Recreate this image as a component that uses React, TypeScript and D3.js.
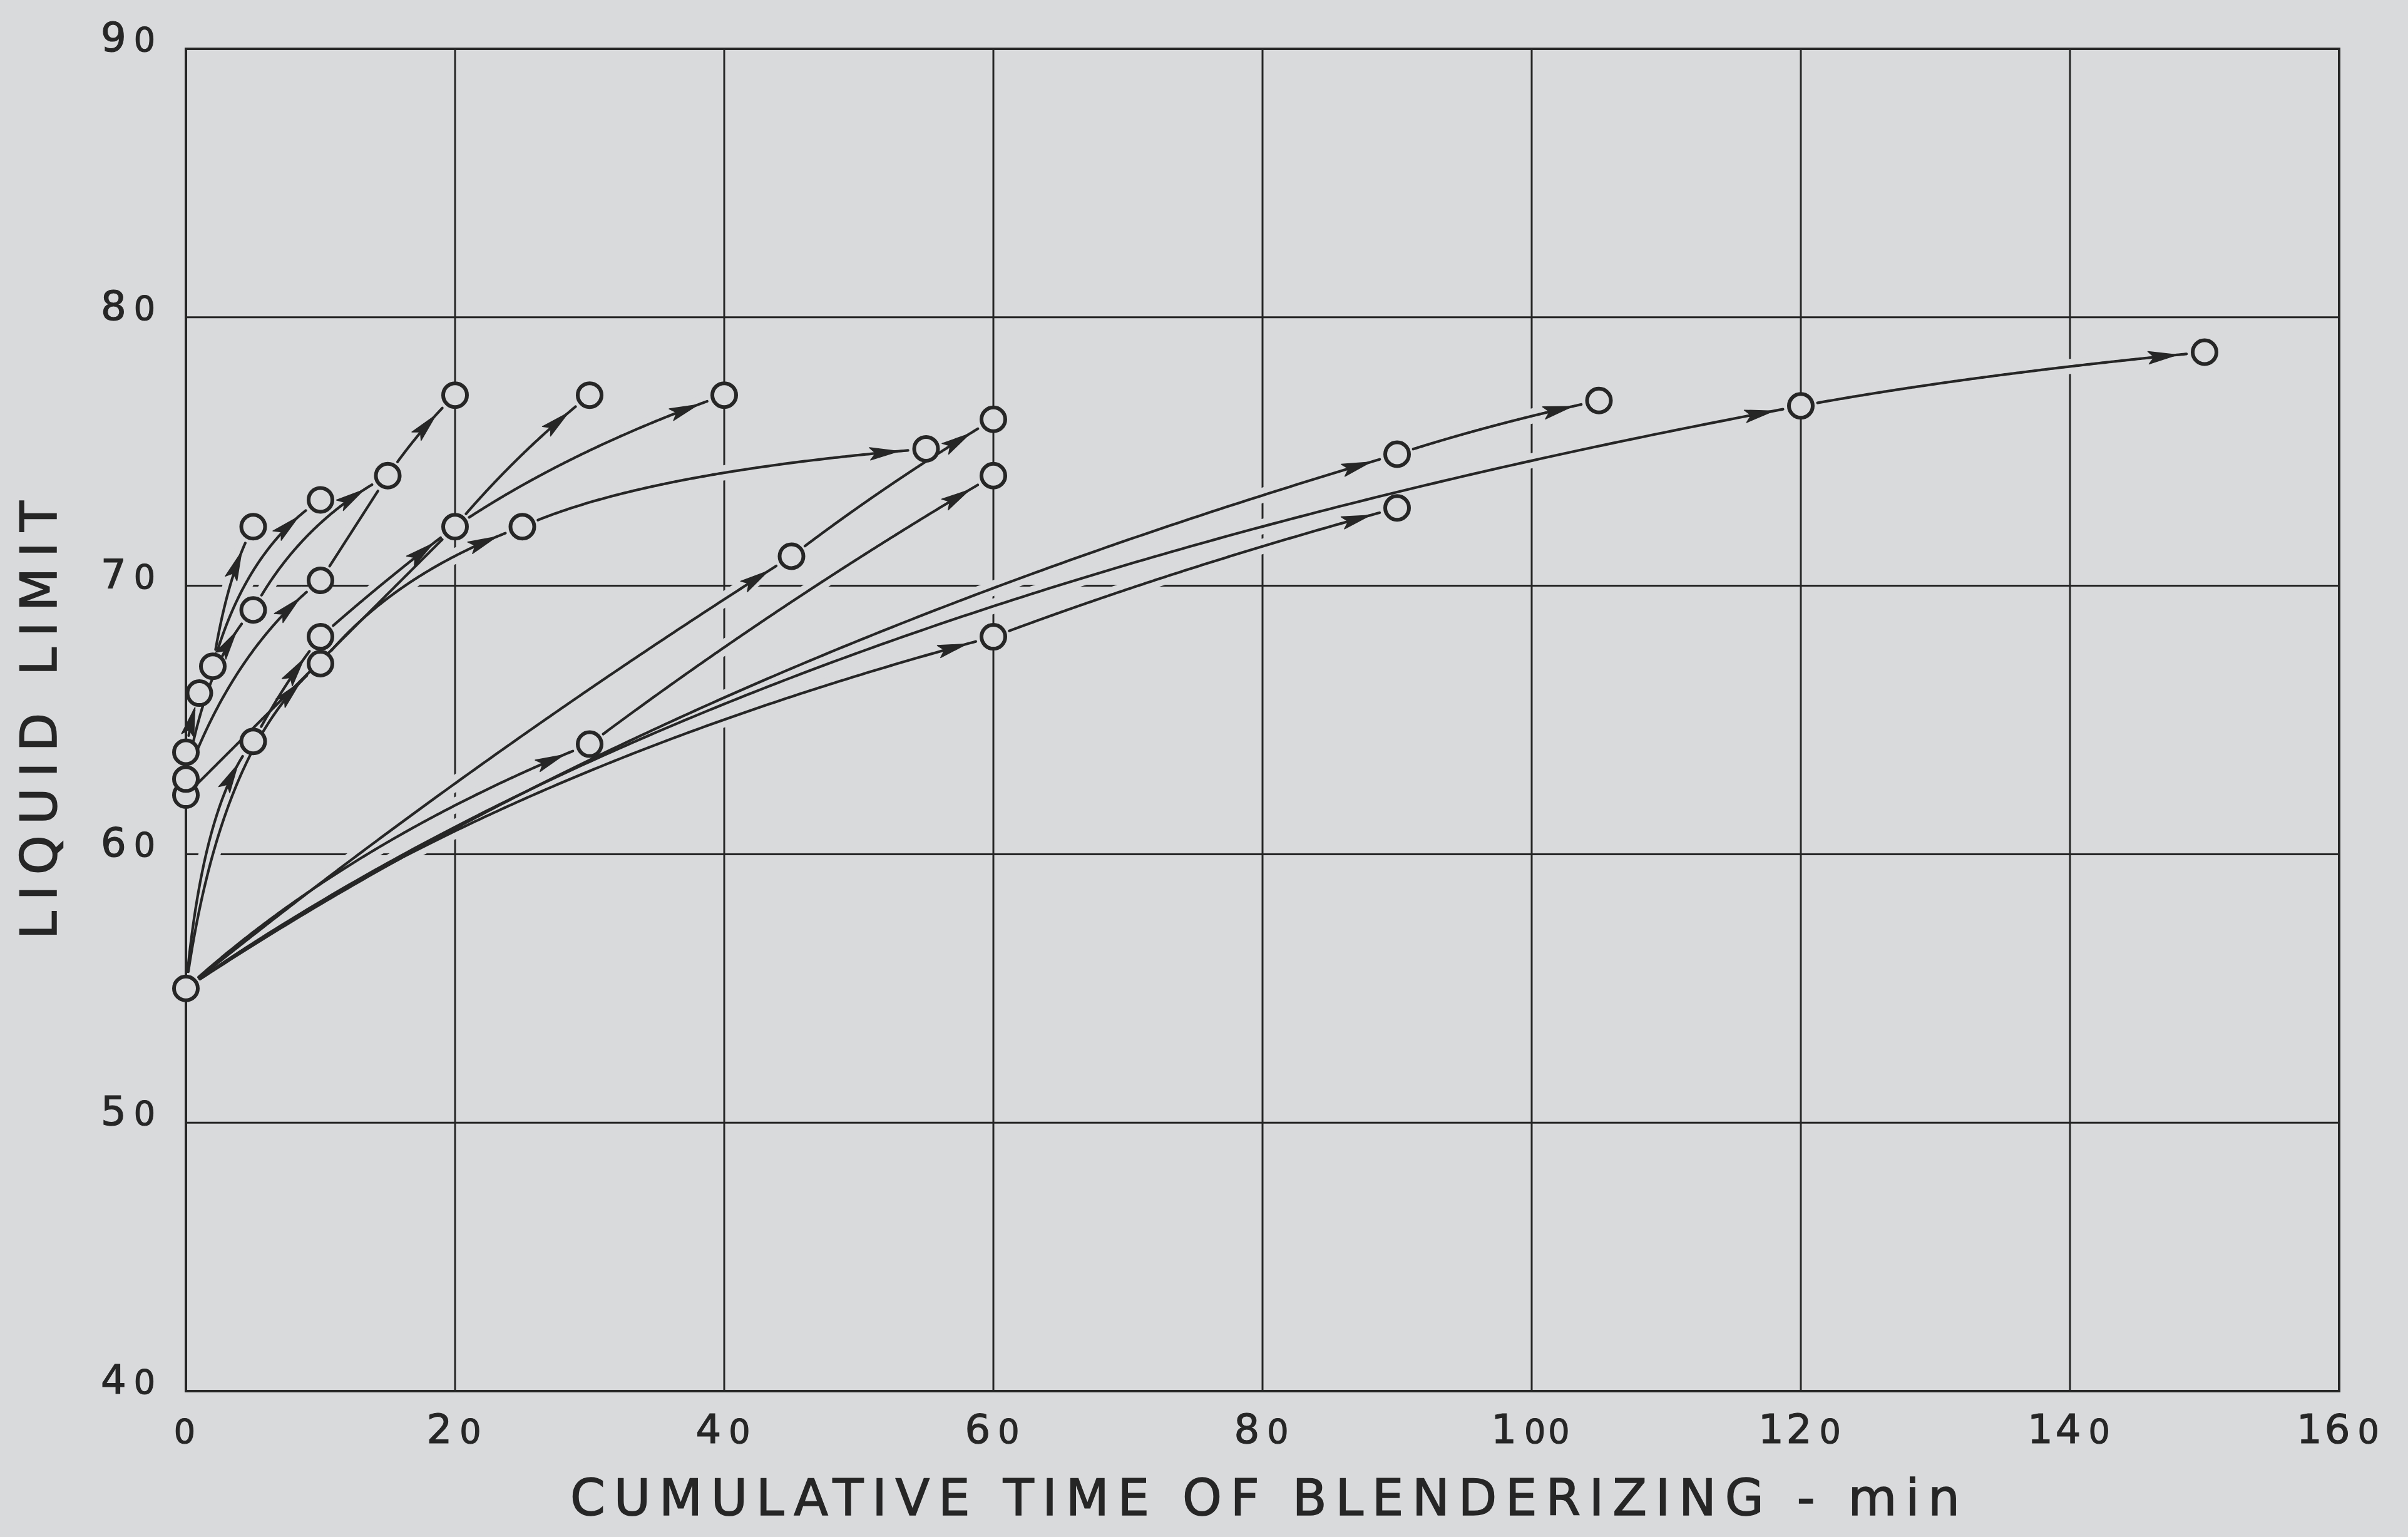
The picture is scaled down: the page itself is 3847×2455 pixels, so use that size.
import * as d3 from 'd3';

const W = 3847;
const H = 2455;

// axes
const xTicks = [0, 20, 40, 60, 80, 100, 120, 140, 160];
const yTicks = [40, 50, 60, 70, 80, 90];

// measured points: [cumulative time (min), liquid limit]
const points: [number, number][] = [
  [0, 55],      // 0
  [0, 62.2],    // 1
  [0, 62.8],    // 2
  [0, 63.8],    // 3
  [1, 66],      // 4
  [2, 67],      // 5
  [5, 64.2],    // 6
  [5, 69.1],    // 7
  [5, 72.2],    // 8
  [10, 67.1],   // 9
  [10, 68.1],   // 10
  [10, 70.2],   // 11
  [10, 73.2],   // 12
  [15, 74.1],   // 13
  [20, 72.2],   // 14
  [20, 77.1],   // 15
  [25, 72.2],   // 16
  [30, 64.1],   // 17
  [30, 77.1],   // 18
  [40, 77.1],   // 19
  [45, 71.1],   // 20
  [55, 75.1],   // 21
  [60, 68.1],   // 22
  [60, 74.1],   // 23
  [60, 76.2],   // 24
  [90, 72.9],   // 25
  [90, 74.9],   // 26
  [105, 76.9],  // 27
  [120, 76.7],  // 28
  [150, 78.7],  // 29
];

// which point leads to which: [from, to, has arrow]
const links: [number, number, boolean][] = [
  [3, 4, true],
  [4, 5, false],
  [5, 8, true],
  [5, 12, true],
  [2, 7, true],
  [7, 13, true],
  [2, 11, true],
  [11, 13, false],
  [13, 15, true],
  [1, 14, false],
  [0, 6, true],
  [6, 10, true],
  [10, 14, true],
  [0, 9, true],
  [9, 16, true],
  [14, 18, true],
  [14, 19, true],
  [16, 21, true],
  [0, 20, true],
  [20, 24, true],
  [0, 17, true],
  [17, 23, true],
  [0, 22, true],
  [22, 25, true],
  [0, 26, true],
  [26, 27, true],
  [0, 28, true],
  [28, 29, true],
];

// how much each link bows upward (0 = straight)
const linkBend = [
  0.1, 0, 0.15, 0.2, 0.2, 0.15, 0.15, 0, 0.05, 0,
  0.25, 0.05, 0.02, 0.25, 0.15, 0.05, 0.08, 0.2, 0.03, 0.03,
  0.1, 0.03, 0.12, 0.04, 0.1, 0.05, 0.16, 0.08,
];

const INK = '#262626';
const BG = '#d9dadc';
const FONT = '"DejaVu Sans", sans-serif';

const x = d3.scaleLinear().domain([0, 160]).range([297, 3737]);
const y = d3.scaleLinear().domain([40, 90]).range([2222, 78]);

type P = [number, number];

const sample = (p0: P, c: P, p2: P, n = 200) => {
  const pts: P[] = [];
  for (let i = 0; i <= n; i++) {
    const s = i / n;
    const a = (1 - s) * (1 - s), b = 2 * s * (1 - s), d = s * s;
    pts.push([a * p0[0] + b * c[0] + d * p2[0], a * p0[1] + b * c[1] + d * p2[1]]);
  }
  const lens = [0];
  for (let i = 1; i < pts.length; i++) {
    lens.push(lens[i - 1] + Math.hypot(pts[i][0] - pts[i - 1][0], pts[i][1] - pts[i - 1][1]));
  }
  return { pts, lens, total: lens[lens.length - 1] };
};

const at = (s: { pts: P[]; lens: number[] }, L: number): P => {
  const { pts, lens } = s;
  if (L <= 0) return pts[0];
  for (let i = 1; i < pts.length; i++) {
    if (lens[i] >= L) {
      const f = (L - lens[i - 1]) / (lens[i] - lens[i - 1] || 1);
      return [pts[i - 1][0] + f * (pts[i][0] - pts[i - 1][0]), pts[i - 1][1] + f * (pts[i][1] - pts[i - 1][1])];
    }
  }
  return pts[pts.length - 1];
};

const lineGen = d3.line<P>();

const R = 19;
const START_CUT = 27;
const END_CUT = 29;
const HEAD_LEN = 46;
const HEAD_W = 10;

const curves = links.map(([a, b, arrow], i) => {
  const [t0, v0] = points[a];
  const [t1, v1] = points[b];
  const k = linkBend[i];
  const p0: P = [x(t0), y(v0)];
  const p2: P = [x(t1), y(v1)];
  const c: P = [x(t0 + (0.5 - k) * (t1 - t0)), y(v0 + (0.5 + k) * (v1 - v0))];
  const s = sample(p0, c, p2);
  const from = START_CUT;
  const to = s.total - END_CUT;
  if (to <= from) return null;
  const trimmed: P[] = [at(s, from)];
  s.pts.forEach((p, j) => {
    if (s.lens[j] > from && s.lens[j] < to) trimmed.push(p);
  });
  trimmed.push(at(s, to));
  let head: string | null = null;
  if (arrow) {
    const tipL = Math.max(from + HEAD_LEN, s.total - 44);
    const tip = at(s, tipL);
    const back = at(s, tipL - 6);
    const dx = tip[0] - back[0], dy = tip[1] - back[1];
    const len = Math.hypot(dx, dy) || 1;
    const ux = dx / len, uy = dy / len;
    const nx = -uy, ny = ux;
    const bx = tip[0] - ux * HEAD_LEN, by = tip[1] - uy * HEAD_LEN;
    const mx = tip[0] - ux * HEAD_LEN * 0.8, my = tip[1] - uy * HEAD_LEN * 0.8;
    head = [
      [tip[0], tip[1]],
      [bx + nx * HEAD_W, by + ny * HEAD_W],
      [mx, my],
      [bx - nx * HEAD_W, by - ny * HEAD_W],
    ].map((p) => p.join(',')).join(' ');
  }
  return { d: lineGen(trimmed) as string, head };
}).filter(Boolean) as { d: string; head: string | null }[];

const TickLabel = ({ v, ...rest }: { v: number; [k: string]: any }) => {
  const m = String(v).match(/^(.*?)(0*)$/) as RegExpMatchArray;
  const headPart = m[1];
  const zeros = m[2];
  return (
    <text {...rest} fontFamily={FONT} fill={INK} fontSize={64} stroke={INK} strokeWidth={1.2}>
      {headPart && <tspan letterSpacing={4}>{headPart}</tspan>}
      {zeros && (
        <tspan fontSize={54} dx={headPart ? 8 : 0} letterSpacing={4}>
          {zeros}
        </tspan>
      )}
    </text>
  );
};

export default function App() {
  const [x0, x1] = x.range();
  const [yb, yt] = y.range();
  return (
    <svg
      width={W}
      height={H}
      viewBox={`0 0 ${W} ${H}`}
      style={{ position: 'absolute', left: 0, top: 0, display: 'block' }}
    >
      <rect x={0} y={0} width={W} height={H} fill={BG} />

      {/* grid */}
      <g stroke={INK} strokeWidth={3}>
        {xTicks.slice(1, -1).map((t) => (
          <line key={'gx' + t} x1={x(t)} x2={x(t)} y1={yt} y2={yb} />
        ))}
        {yTicks.slice(1, -1).map((v) => (
          <line key={'gy' + v} x1={x0} x2={x1} y1={y(v)} y2={y(v)} />
        ))}
      </g>

      {/* gaps in the grid where curves cross */}
      <g fill="none" stroke={BG} strokeWidth={24}>
        {curves.map((c, i) => (
          <path key={'h' + i} d={c.d} />
        ))}
      </g>

      <rect x={x0} y={yt} width={x1 - x0} height={yb - yt} fill="none" stroke={INK} strokeWidth={4} />

      {/* curves */}
      <g fill="none" stroke={INK} strokeWidth={4.2} strokeLinecap="round">
        {curves.map((c, i) => (
          <path key={'c' + i} d={c.d} />
        ))}
      </g>
      <g fill={INK} stroke={INK} strokeWidth={1.5} strokeLinejoin="round">
        {curves.map((c, i) => (c.head ? <polygon key={'a' + i} points={c.head} /> : null))}
      </g>

      {/* points */}
      <g fill={BG} stroke={INK} strokeWidth={6}>
        {points.map(([t, v], i) => (
          <circle key={'p' + i} cx={x(t)} cy={y(v)} r={R} />
        ))}
      </g>

      {/* tick labels */}
      {xTicks.map((t) => (
        <TickLabel key={'tx' + t} v={t} x={x(t)} y={2305} textAnchor="middle" />
      ))}
      {yTicks.map((v) => (
        <TickLabel key={'ty' + v} v={v} x={252} y={y(v) + 4} textAnchor="end" />
      ))}

      {/* axis titles */}
      <text
        x={911}
        y={2420}
        fontFamily={FONT}
        fontSize={80}
        fill={INK}
        stroke={INK}
        strokeWidth={1.5}
        textLength={2220}
        lengthAdjust="spacing"
      >
        CUMULATIVE TIME OF BLENDERIZING - min
      </text>
      <text
        transform="translate(90,1150) rotate(-90)"
        textAnchor="middle"
        fontFamily={FONT}
        fontSize={80}
        fill={INK}
        stroke={INK}
        strokeWidth={1.5}
        textLength={700}
        lengthAdjust="spacing"
      >
        LIQUID LIMIT
      </text>
    </svg>
  );
}
